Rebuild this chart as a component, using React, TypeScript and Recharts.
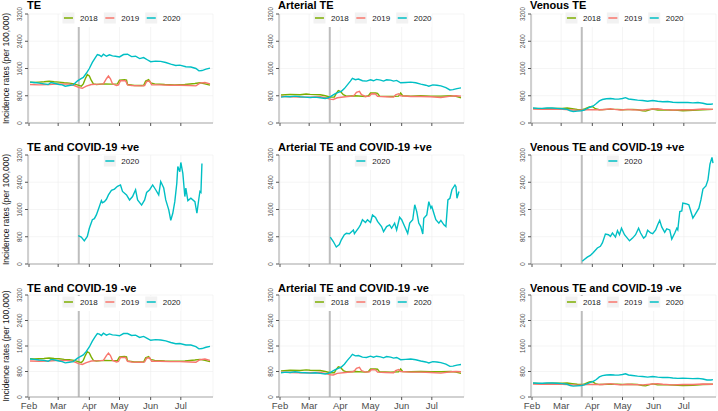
import React from 'react';
import { LineChart, Line, XAxis, YAxis, CartesianGrid, ReferenceLine } from 'recharts';

type Pt = [number, number]; // [days since 1 Feb, incidence per 100,000]

const MONTH_TICKS = [0, 29, 60, 90, 121, 151];
const MONTH_LABELS = ['Feb', 'Mar', 'Apr', 'May', 'Jun', 'Jul'];
const Y_TICKS = [0, 800, 1600, 2400, 3200];
const LOCKDOWN_DAY = 49.5;
const COLORS: Record<string, string> = { '2018': '#7CAE00', '2019': '#F8766D', '2020': '#00BFC4' };

// TE
const te2018: Pt[] = [[1,1200],[5,1190],[10,1200],[15,1210],[20,1225],[25,1210],[30,1200],[35,1180],[40,1170],[45,1150],[48,1120],[52,1080],[54,1150],[56,1300],[58,1420],[60,1380],[62,1250],[64,1150],[67,1130],[75,1150],[82,1140],[88,1150],[90,1260],[95,1270],[97,1260],[98,1130],[105,1100],[110,1100],[114,1100],[116,1230],[119,1270],[121,1180],[125,1150],[135,1130],[145,1120],[155,1130],[165,1160],[170,1180],[175,1150],[180,1110]];
const te2019: Pt[] = [[1,1130],[10,1120],[20,1130],[30,1150],[40,1140],[45,1100],[50,1040],[53,1020],[57,1080],[62,1130],[70,1140],[74,1150],[77,1300],[79,1380],[81,1300],[83,1150],[87,1100],[89,1120],[91,1240],[96,1240],[98,1120],[102,1100],[112,1090],[115,1100],[117,1220],[120,1230],[122,1120],[130,1120],[140,1110],[150,1110],[160,1100],[166,1090],[170,1170],[175,1190],[180,1150]];
const te2020: Pt[] = [[1,1200],[5,1190],[10,1170],[15,1150],[19,1130],[22,1190],[26,1160],[30,1130],[33,1120],[36,1080],[40,1100],[44,1120],[48,1230],[51,1290],[54,1340],[57,1460],[60,1600],[63,1780],[66,1920],[68,2010],[70,1990],[72,1950],[74,2020],[77,1960],[80,2000],[83,1970],[86,1960],[90,1940],[94,2010],[98,2020],[102,1950],[106,1960],[110,1890],[114,1920],[118,1850],[121,1800],[126,1815],[131,1810],[136,1775],[141,1730],[146,1690],[150,1700],[156,1650],[161,1645],[166,1600],[169,1530],[172,1540],[176,1580],[180,1610]];

// Arterial TE
const art2018: Pt[] = [[1,820],[10,840],[20,830],[26,850],[30,840],[40,830],[45,800],[50,760],[54,760],[56,870],[58,950],[60,930],[63,830],[66,790],[75,800],[85,780],[88,800],[90,880],[95,880],[97,870],[99,790],[110,780],[118,790],[120,880],[122,800],[130,790],[140,800],[150,790],[160,790],[170,800],[175,780],[180,740]];
const art2019: Pt[] = [[1,780],[10,770],[20,760],[30,760],[40,770],[45,740],[50,700],[53,690],[57,740],[65,770],[72,790],[74,820],[76,900],[79,930],[81,830],[85,780],[89,790],[91,860],[95,850],[97,780],[105,770],[113,760],[115,830],[118,860],[120,800],[130,780],[140,780],[150,770],[160,750],[170,790],[175,800],[180,790]];
const art2020: Pt[] = [[1,760],[6,780],[10,770],[15,790],[20,770],[25,760],[30,750],[35,760],[40,740],[45,720],[48,740],[51,790],[55,860],[58,900],[61,930],[64,1010],[67,1120],[70,1230],[72,1310],[75,1270],[78,1290],[82,1240],[86,1230],[90,1270],[93,1240],[96,1280],[100,1260],[103,1230],[106,1270],[110,1260],[113,1230],[116,1250],[120,1180],[125,1190],[130,1200],[135,1180],[140,1140],[145,1110],[148,1080],[152,1120],[156,1110],[160,1090],[165,1040],[169,970],[172,980],[176,1010],[180,1030]];

// Venous TE
const ven2018: Pt[] = [[1,430],[10,420],[20,430],[30,430],[35,440],[40,420],[45,400],[50,390],[53,420],[57,470],[60,485],[63,420],[67,390],[75,400],[85,400],[90,390],[100,400],[105,390],[110,360],[113,350],[117,390],[120,410],[125,380],[135,380],[145,370],[150,360],[160,370],[170,390],[180,400]];
const ven2019: Pt[] = [[1,410],[10,400],[20,410],[30,400],[40,380],[45,370],[50,380],[55,390],[60,390],[70,390],[78,420],[82,400],[88,380],[95,400],[100,390],[110,380],[120,410],[125,420],[130,400],[140,380],[150,390],[160,390],[170,410],[180,400]];
const ven2020: Pt[] = [[1,440],[6,430],[10,430],[15,440],[20,440],[25,430],[30,420],[35,400],[38,360],[41,340],[45,350],[49,360],[52,380],[55,430],[58,470],[61,500],[64,570],[67,650],[70,690],[74,710],[78,720],[82,705],[86,700],[90,720],[93,745],[96,705],[100,690],[105,670],[110,660],[115,640],[120,660],[125,640],[130,625],[135,630],[140,610],[145,600],[150,605],[155,600],[160,590],[165,600],[170,580],[174,550],[178,550],[180,560]];

// COVID-19 +ve (2020 only)
const tePos2020: Pt[] = [[49,830],[52,790],[55,680],[58,810],[60,1050],[63,1300],[65,1330],[67,1440],[70,1690],[72,1860],[73,1800],[75,1830],[77,1900],[79,2030],[82,2160],[85,2200],[88,2280],[91,2320],[93,2130],[97,2030],[100,1880],[103,1980],[106,2180],[108,1880],[112,1730],[115,1880],[117,2100],[120,2180],[123,2320],[126,2180],[129,2030],[131,2420],[134,2230],[136,1880],[139,1590],[141,1280],[143,1490],[145,1830],[147,2370],[148,2860],[150,2710],[151,2980],[153,2660],[155,1980],[156,2230],[158,1860],[161,1930],[165,1830],[167,1490],[169,1930],[170,2130],[171,2100],[172,2950]];
const artPos2020: Pt[] = [[50,790],[53,660],[56,500],[59,570],[61,710],[64,860],[66,900],[69,890],[73,1000],[74,890],[78,1050],[80,1150],[82,1300],[85,1220],[87,1300],[90,1220],[92,1440],[95,1370],[97,1250],[101,1100],[103,950],[106,1100],[109,1150],[111,1050],[114,1200],[116,1000],[119,1370],[121,1300],[124,1100],[127,900],[129,1200],[132,1300],[134,1740],[136,1540],[138,1200],[140,1100],[142,880],[143,1340],[146,1440],[148,1830],[150,1640],[151,1690],[153,1490],[155,1300],[158,1200],[160,1280],[163,1150],[165,1100],[167,1880],[169,1930],[171,2180],[174,2320],[175,2270],[176,1930],[178,2130]];
const venPos2020: Pt[] = [[50,80],[52,130],[55,200],[58,250],[61,340],[65,470],[68,520],[70,620],[73,880],[76,860],[78,810],[80,910],[83,790],[85,980],[87,860],[89,1050],[92,860],[94,790],[97,680],[100,760],[103,860],[106,1050],[108,910],[111,760],[113,810],[115,990],[118,910],[120,890],[123,1000],[125,1150],[127,1280],[129,1090],[132,930],[134,1030],[137,1000],[139,730],[142,910],[144,1050],[145,1000],[147,1540],[149,1560],[150,1790],[153,1770],[156,1740],[160,1350],[162,1440],[166,1640],[168,1880],[170,2200],[173,2290],[175,2470],[177,2930],[179,3130],[180,2960]];

// COVID-19 -ve (2018/2019 have no COVID cases, so same as all TE)
const teNeg2020: Pt[] = [[1,1190],[5,1180],[10,1160],[15,1150],[19,1120],[22,1180],[26,1160],[30,1130],[33,1110],[36,1070],[40,1090],[44,1110],[48,1210],[51,1270],[54,1320],[57,1430],[60,1570],[63,1750],[66,1900],[68,1990],[70,1970],[72,1930],[74,2000],[77,1940],[80,1980],[83,1950],[86,1940],[90,1920],[94,1990],[98,1990],[102,1930],[106,1940],[110,1870],[114,1900],[118,1830],[121,1780],[126,1800],[131,1790],[136,1760],[141,1710],[146,1670],[150,1680],[156,1630],[161,1630],[166,1580],[169,1510],[172,1520],[176,1560],[180,1590]];
const artNeg2020: Pt[] = [[1,760],[6,780],[10,770],[15,790],[20,770],[25,760],[30,750],[35,760],[40,740],[45,720],[48,740],[51,790],[55,860],[58,900],[61,940],[64,1030],[67,1150],[70,1260],[72,1340],[75,1290],[78,1300],[82,1250],[86,1240],[90,1280],[93,1250],[96,1280],[100,1260],[103,1230],[106,1270],[110,1250],[113,1220],[116,1240],[120,1170],[125,1180],[130,1190],[135,1170],[140,1130],[145,1100],[148,1070],[152,1110],[156,1100],[160,1080],[165,1030],[169,960],[172,970],[176,1000],[180,1020]];
const venNeg2020: Pt[] = [[1,440],[6,430],[10,430],[15,440],[20,440],[25,430],[30,420],[35,400],[38,360],[41,340],[45,350],[49,360],[52,380],[55,420],[58,460],[61,490],[64,550],[67,630],[70,670],[74,690],[78,700],[82,690],[86,685],[90,705],[93,730],[96,690],[100,675],[105,655],[110,645],[115,625],[120,645],[125,625],[130,610],[135,615],[140,595],[145,585],[150,590],[155,585],[160,575],[165,585],[170,565],[174,535],[178,535],[180,545]];

const FONT = '"Liberation Sans", Arial, sans-serif';
const PLOT_W = 185;
const YW = 20;
const TOP_PAD = 9;
const COL_LEFT = [28, 279, 531];
const ROW_TOP = [14, 155, 295];
const ROW_H = [109, 109, 102];
const LEGEND_Y = [18, 161, 302];
const TITLE_Y = [8.5, 151, 292];

type Series = { year: string; pts: Pt[] };
type PanelDef = { title: string; row: number; col: number; series: Series[] };

const panels: PanelDef[] = [
  { title: 'TE', row: 0, col: 0, series: [{ year: '2018', pts: te2018 }, { year: '2019', pts: te2019 }, { year: '2020', pts: te2020 }] },
  { title: 'Arterial TE', row: 0, col: 1, series: [{ year: '2018', pts: art2018 }, { year: '2019', pts: art2019 }, { year: '2020', pts: art2020 }] },
  { title: 'Venous TE', row: 0, col: 2, series: [{ year: '2018', pts: ven2018 }, { year: '2019', pts: ven2019 }, { year: '2020', pts: ven2020 }] },
  { title: 'TE and COVID-19 +ve', row: 1, col: 0, series: [{ year: '2020', pts: tePos2020 }] },
  { title: 'Arterial TE and COVID-19 +ve', row: 1, col: 1, series: [{ year: '2020', pts: artPos2020 }] },
  { title: 'Venous TE and COVID-19 +ve', row: 1, col: 2, series: [{ year: '2020', pts: venPos2020 }] },
  { title: 'TE and COVID-19 -ve', row: 2, col: 0, series: [{ year: '2018', pts: te2018 }, { year: '2019', pts: te2019 }, { year: '2020', pts: teNeg2020 }] },
  { title: 'Arterial TE and COVID-19 -ve', row: 2, col: 1, series: [{ year: '2018', pts: art2018 }, { year: '2019', pts: art2019 }, { year: '2020', pts: artNeg2020 }] },
  { title: 'Venous TE and COVID-19 -ve', row: 2, col: 2, series: [{ year: '2018', pts: ven2018 }, { year: '2019', pts: ven2019 }, { year: '2020', pts: venNeg2020 }] },
];

// rotated y tick label, squeezed a little along its length like the reference
const YTick = (props: any) => {
  const { y, payload } = props;
  const cx = YW - 6;
  return (
    <text x={0} y={0} transform={`translate(${cx} ${y}) rotate(-90) scale(0.78 1)`} textAnchor="middle"
      fontSize={8} fill="#4D4D4D" fontFamily={FONT}>
      {payload.value}
    </text>
  );
};

function Panel({ def }: { def: PanelDef }) {
  const h = ROW_H[def.row];
  const bottomRow = def.row === 2;
  const XTick = (props: any) => {
    const { x, payload } = props;
    if (!bottomRow) return <g />;
    return (
      <text x={x} y={TOP_PAD + h + 12} textAnchor="middle" fontSize={9.5} fill="#4D4D4D" fontFamily={FONT}>
        {MONTH_LABELS[MONTH_TICKS.indexOf(payload.value)]}
      </text>
    );
  };
  return (
    <div style={{ position: 'absolute', left: COL_LEFT[def.col] - YW, top: ROW_TOP[def.row] - TOP_PAD }}>
      <LineChart width={YW + PLOT_W + 3} height={TOP_PAD + h + 14} margin={{ top: TOP_PAD, right: 3, left: 0, bottom: 0 }}>
        <CartesianGrid stroke="#EEEEEE" strokeWidth={0.6} />
        <XAxis type="number" dataKey="day" domain={[-1, 183]} ticks={MONTH_TICKS} height={14}
          tick={XTick} tickSize={3} axisLine={{ stroke: '#A8A8A8' }} tickLine={{ stroke: '#555' }} allowDataOverflow />
        <YAxis type="number" domain={[0, 3200]} ticks={Y_TICKS} width={YW} tick={YTick} tickSize={3}
          axisLine={{ stroke: '#A8A8A8' }} tickLine={{ stroke: '#555' }} allowDataOverflow />
        <ReferenceLine x={LOCKDOWN_DAY} stroke="#BDBDBD" strokeWidth={2} />
        {def.series.map((s) => (
          <Line key={s.year} data={s.pts.map(([day, v]) => ({ day, v }))} dataKey="v" type="linear"
            stroke={COLORS[s.year]} strokeWidth={1.4} dot={false} isAnimationActive={false} />
        ))}
      </LineChart>
    </div>
  );
}

function Legend({ def }: { def: PanelDef }) {
  const years = def.series.map((s) => s.year);
  const pitch = 41.4;
  const total = (years.length - 1) * pitch + 33.3;
  const cx = COL_LEFT[def.col] + PLOT_W / 2;
  const cy = LEGEND_Y[def.row];
  const x0 = cx - total / 2;
  return (
    <g>
      <rect x={x0 - 2} y={cy - 6} width={total + 4} height={15} fill="#fff" />
      {years.map((yr, i) => {
        const kx = x0 + i * pitch;
        return (
          <g key={yr}>
            <rect x={kx} y={cy - 5.5} width={12} height={11} fill="#F2F2F2" />
            <line x1={kx + 1.5} x2={kx + 10.5} y1={cy} y2={cy} stroke={COLORS[yr]} strokeWidth={1.5} />
            <text x={kx + 17.5} y={cy + 3} fontSize={8} fill="#1A1A1A" fontFamily={FONT}>{yr}</text>
          </g>
        );
      })}
    </g>
  );
}

export default function App() {
  return (
    <div style={{ position: 'absolute', left: 0, top: 0, width: 718, height: 411, overflow: 'hidden', background: '#fff' }}>
      {panels.map((p) => <Panel key={p.title} def={p} />)}
      <svg width={718} height={411} style={{ position: 'absolute', left: 0, top: 0, pointerEvents: 'none' }}>
        {panels.map((p) => (
          <g key={p.title}>
            <Legend def={p} />
            <text x={COL_LEFT[p.col] - 1} y={TITLE_Y[p.row]} fontSize={11} fontWeight="bold" fill="#000" fontFamily={FONT}>
              {p.title}
            </text>
          </g>
        ))}
        {[0, 1, 2].map((r) => {
          const cy = ROW_TOP[r] + ROW_H[r] / 2;
          return (
            <text key={r} x={9} y={cy} transform={`rotate(-90 9 ${cy})`} textAnchor="middle" fontSize={8.5}
              fill="#1A1A1A" fontFamily={FONT}>
              Incidence rates (per 100,000)
            </text>
          );
        })}
      </svg>
    </div>
  );
}
